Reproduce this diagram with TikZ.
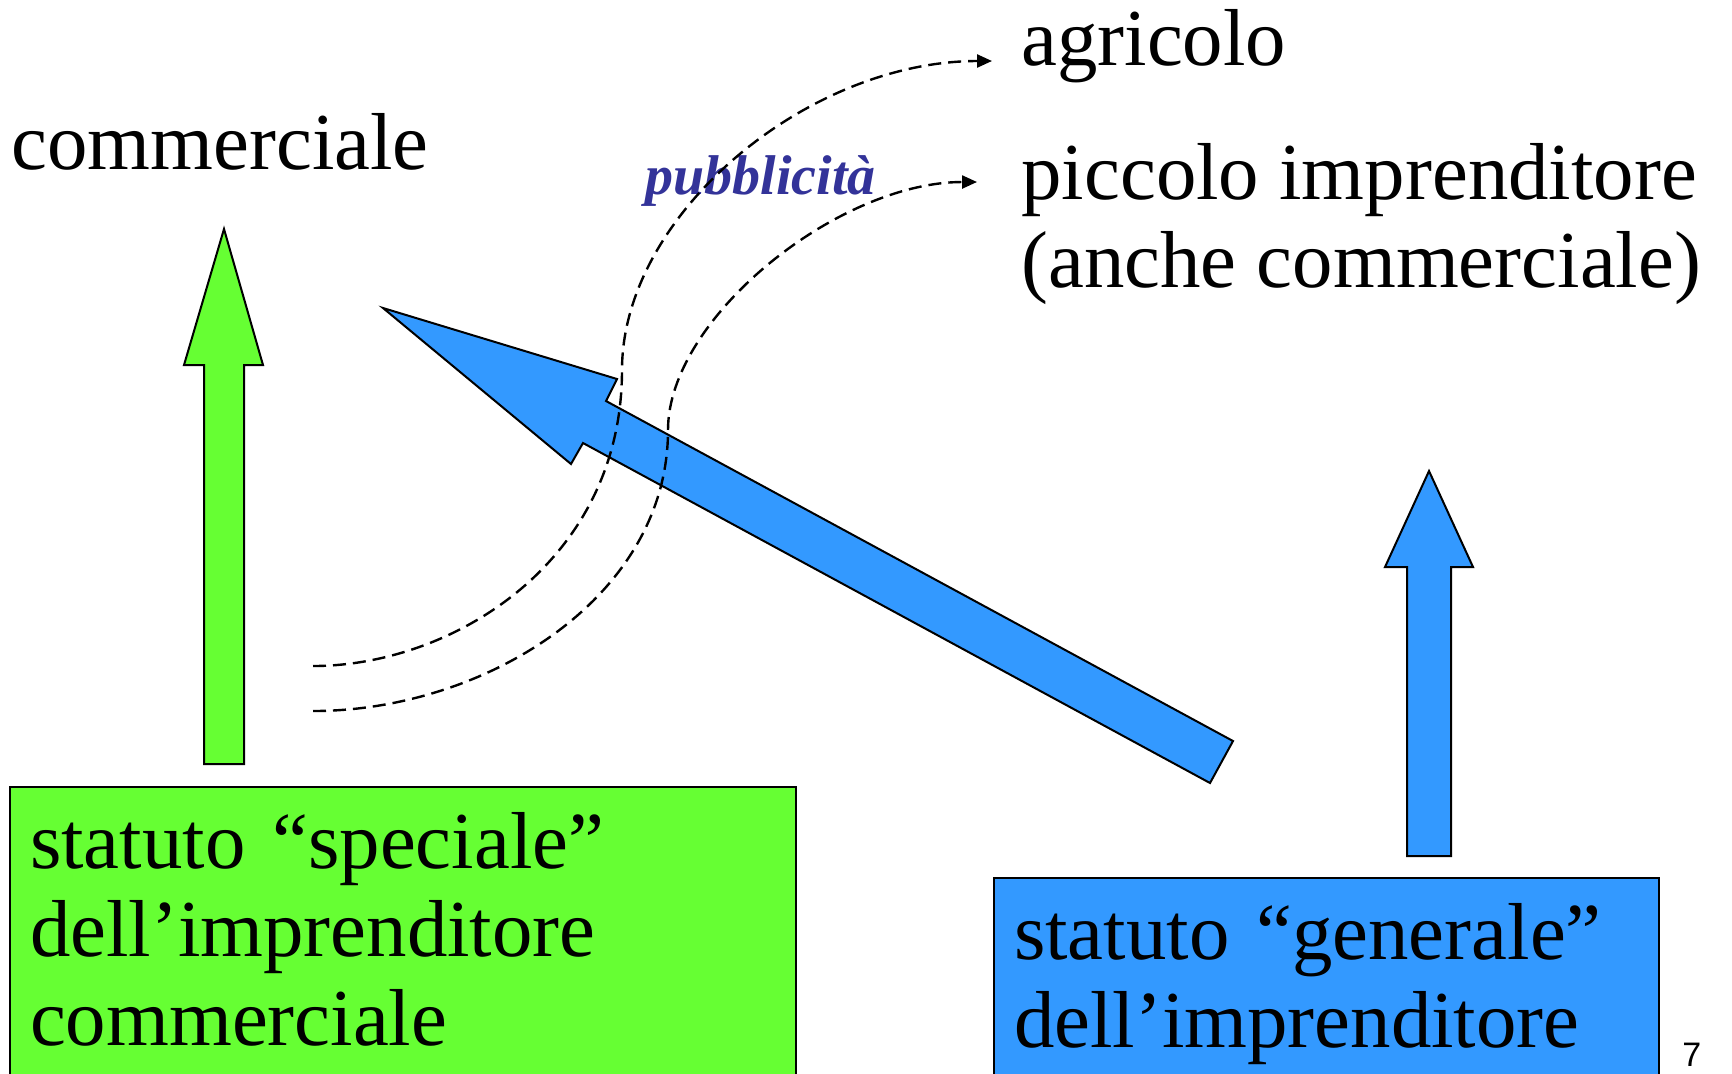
\documentclass[tikz,border=0pt]{standalone}
\usepackage{fontspec}
\setmainfont{Liberation Serif}
\newfontfamily\pagefont{Liberation Sans}
\usetikzlibrary{arrows.meta}
\definecolor{boxgreen}{HTML}{66FF33}
\definecolor{boxblue}{HTML}{3399FF}
\definecolor{pubblue}{HTML}{333399}
\begin{document}
\begin{tikzpicture}[x=0.5pt,y=-0.5pt,
  every node/.style={inner sep=0pt,font=\fontsize{40.4}{44.25}\selectfont},
  box/.style={draw,line width=1pt,anchor=north west,inner xsep=10pt,inner ysep=12.5pt,align=left},
  blockarrow/.style={draw,line width=1pt,line join=miter},
  link/.style={dash pattern=on 6.5pt off 3.5pt,line width=1.2pt,-{Triangle[length=7.5pt,width=6.5pt]}}]
  \useasboundingbox (0,0) rectangle (1732,1073);

  \draw[blockarrow,fill=boxgreen] (204,764) -- (204,365) -- (184,365) -- (224,229) -- (263,365) -- (244,365) -- (244,764) -- cycle;
  \draw[blockarrow,fill=boxblue] (1233,741) -- (606,401) -- (617,379) -- (383,308) -- (571,464) -- (583,443) -- (1210,783) -- cycle;
  \draw[blockarrow,fill=boxblue] (1407,856) -- (1407,567) -- (1385,567) -- (1429,471) -- (1473,567) -- (1451,567) -- (1451,856) -- cycle;

  \node[box,fill=boxgreen,text width=373pt,text depth=105pt] (speciale) at (9,786) {statuto ``speciale''\\dell'imprenditore\\commerciale};
  \node[box,fill=boxblue,text width=312.5pt,text depth=60pt] (generale) at (993,877) {statuto ``generale''\\dell'imprenditore};

  \node[anchor=base west] (comm) at (11,169) {commerciale};
  \node[anchor=base west] (agricolo) at (1021,65) {agricolo};
  \node[anchor=north west,align=left] (piccolo) at (1021,143) {piccolo imprenditore\\(anche commerciale)};
  \node[anchor=base west,text=pubblue,font=\fontsize{28}{32}\selectfont\bfseries\itshape] (pubbl) at (645,194) {pubblicit\`a};
  \node[anchor=base west,font=\fontsize{17}{20}\pagefont] (pag) at (1682,1066) {7};

  \coordinate (da) at (313,666);
  \coordinate (db) at (313,711);
    \draw[link] (da) .. controls (452,666) and (622,562) .. (622,370) .. controls (622,215) and (807,61) .. ([xshift=-14.5pt,yshift=2pt]agricolo.base west);
    \draw[link] (db) .. controls (483,711) and (668,599) .. (668,430) .. controls (668,318) and (838,182) .. ([xshift=-22pt,yshift=-19.5pt]piccolo.north west);
\end{tikzpicture}
\end{document}
